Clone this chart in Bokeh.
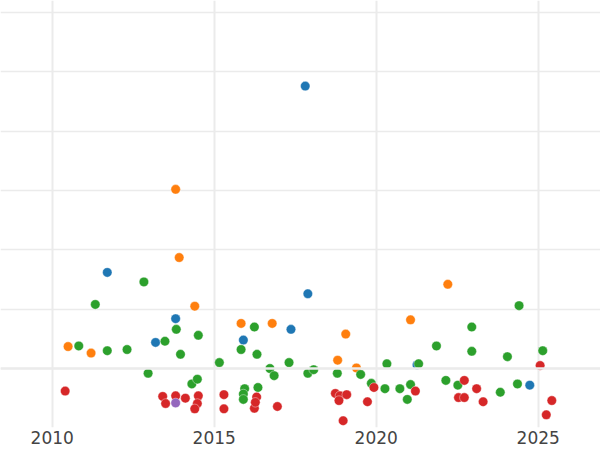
from bokeh.plotting import figure
from bokeh.models import FixedTicker, Span, Range1d
from bokeh.embed import file_html
from bokeh.resources import INLINE

# ---- data (year, value) per group ----
blue_x = [2011.70, 2013.81, 2013.19, 2015.90, 2017.37, 2017.81, 2017.89, 2021.26, 2024.74]
blue_y = [1.62, 0.84, 0.44, 0.48, 0.66, 4.76, 1.26, 0.06, -0.28]

orange_x = [2013.81, 2013.92, 2014.40, 2010.49, 2011.20, 2015.83, 2016.79, 2018.81,
            2019.06, 2019.39, 2021.06, 2022.21]
orange_y = [3.02, 1.87, 1.05, 0.37, 0.26, 0.76, 0.76, 0.14, 0.58, 0.01, 0.82, 1.42]

green_x = [2011.33, 2012.83, 2010.82, 2011.70, 2012.31, 2012.96, 2013.48, 2013.83, 2013.96,
           2014.51, 2014.31, 2014.48, 2015.16, 2015.83, 2016.24, 2016.32, 2015.94, 2015.90,
           2015.90, 2016.35, 2016.72, 2016.85, 2017.31, 2017.89, 2018.07, 2018.80, 2019.52,
           2019.85, 2020.27, 2020.33, 2020.73, 2020.96, 2021.06, 2021.31, 2021.86, 2022.15,
           2022.52, 2022.95, 2022.95, 2023.83, 2024.05, 2024.36, 2024.41, 2025.14]
green_y = [1.08, 1.46, 0.38, 0.30, 0.32, -0.08, 0.46, 0.66, 0.24,
           0.56, -0.26, -0.18, 0.10, 0.32, 0.70, 0.24, -0.34, -0.43,
           -0.52, -0.32, 0.00, -0.12, 0.10, -0.08, -0.02, -0.08, -0.10,
           -0.25, -0.34, 0.08, -0.34, -0.52, -0.27, 0.08, 0.38, -0.20,
           -0.28, 0.70, 0.29, -0.40, 0.20, -0.26, 1.06, 0.30]

red_x = [2010.40, 2013.41, 2013.50, 2013.81, 2014.11, 2014.51, 2014.48, 2014.40, 2015.30,
         2015.30, 2016.24, 2016.31, 2016.27, 2016.95, 2018.74, 2018.88, 2019.09, 2018.85,
         2018.98, 2019.73, 2019.93, 2021.21, 2022.54, 2022.72, 2022.72, 2023.10, 2023.30,
         2025.06, 2025.25, 2025.42]
red_y = [-0.38, -0.47, -0.59, -0.46, -0.50, -0.46, -0.59, -0.68, -0.44,
         -0.68, -0.67, -0.48, -0.57, -0.64, -0.42, -0.46, -0.44, -0.54,
         -0.88, -0.56, -0.32, -0.38, -0.49, -0.49, -0.20, -0.34, -0.56,
         0.05, -0.78, -0.54]

purple_x = [2013.81]
purple_y = [-0.58]

x_ticks = [2010, 2015, 2020, 2025]
y_grid = [0, 1, 2, 3, 4, 5, 6]

p = figure(width=600, height=450, output_backend="svg", toolbar_location=None,
           x_range=Range1d(2008.404, 2026.923), y_range=Range1d(-0.994, 6.203),
           min_border_left=0, min_border_right=0, min_border_top=0, min_border_bottom=23)
p.outline_line_color = None
p.background_fill_color = "white"
p.border_fill_color = "white"

p.yaxis.visible = False
p.ygrid.ticker = FixedTicker(ticks=y_grid)
p.ygrid.grid_line_color = "#ebebeb"
p.ygrid.grid_line_width = 1.5

p.xaxis.ticker = FixedTicker(ticks=x_ticks)
p.xaxis.axis_line_color = None
p.xaxis.major_tick_line_color = None
p.xaxis.minor_tick_line_color = None
p.xaxis.major_tick_in = 0
p.xaxis.major_tick_out = 0
p.xaxis.major_label_standoff = 3
p.xaxis.major_label_text_font = "DejaVu Sans"
p.xaxis.major_label_text_font_size = "17px"
p.xaxis.major_label_text_color = "#444444"
p.xgrid.grid_line_color = "#ebebeb"
p.xgrid.grid_line_width = 2

p.add_layout(Span(location=0, dimension="width", line_color="#ebebeb", line_width=2.5))

for xs, ys, c in [(blue_x, blue_y, "#1f77b4"), (orange_x, orange_y, "#ff7f0e"),
                  (green_x, green_y, "#2ca02c"), (red_x, red_y, "#d62728"),
                  (purple_x, purple_y, "#9467bd")]:
    p.scatter(xs, ys, size=9.5, fill_color=c, line_color="white", line_width=0.4)

open("out.html", "w").write(file_html(p, INLINE))
